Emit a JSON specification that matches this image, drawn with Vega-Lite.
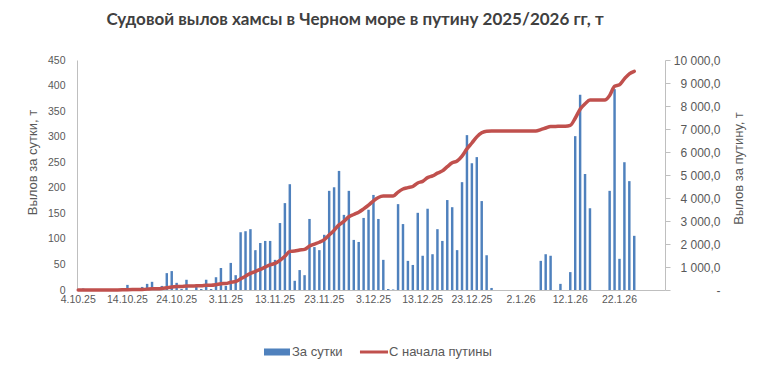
{
  "$schema": "https://vega.github.io/schema/vega-lite/v6.json",
  "width": 588,
  "height": 230,
  "autosize": {"type": "none"},
  "padding": {"left": 77, "top": 60, "right": 96, "bottom": 81},
  "background": "white",
  "config": {"view": {"stroke": null}, "font": "Liberation Sans"},
  "title": {"text": "Судовой вылов хамсы в Черном море в путину 2025/2026 гг, т", "anchor": "middle", "dx": -16, "offset": 25, "fontSize": 17, "font": "Lato", "fontWeight": "bold", "color": "#404040"},
  "data": {"values": [
    {"d":"4.10.25","cum":0},
    {"d":"5.10.25","daily":3,"cum":3},
    {"d":"6.10.25","cum":3},{"d":"7.10.25","cum":3},{"d":"8.10.25","cum":3},{"d":"9.10.25","cum":3},{"d":"10.10.25","cum":3},{"d":"11.10.25","cum":3},{"d":"12.10.25","cum":3},
    {"d":"13.10.25","daily":3,"cum":6},
    {"d":"14.10.25","daily":10,"cum":16},
    {"d":"15.10.25","daily":3,"cum":20},
    {"d":"16.10.25","cum":20},
    {"d":"17.10.25","daily":6,"cum":26},
    {"d":"18.10.25","daily":12,"cum":38},
    {"d":"19.10.25","daily":16,"cum":54},
    {"d":"20.10.25","cum":54},
    {"d":"21.10.25","daily":8,"cum":63},
    {"d":"22.10.25","daily":33,"cum":97},
    {"d":"23.10.25","daily":37,"cum":135},
    {"d":"24.10.25","daily":14,"cum":149},
    {"d":"25.10.25","daily":2,"cum":151},
    {"d":"26.10.25","daily":20,"cum":172},
    {"d":"27.10.25","cum":172},
    {"d":"28.10.25","daily":8,"cum":180},
    {"d":"29.10.25","daily":2,"cum":182},
    {"d":"30.10.25","daily":20,"cum":203},
    {"d":"31.10.25","daily":2,"cum":205},
    {"d":"1.11.25","daily":25,"cum":230},
    {"d":"2.11.25","daily":43,"cum":274},
    {"d":"3.11.25","daily":8,"cum":283},
    {"d":"4.11.25","daily":53,"cum":337},
    {"d":"5.11.25","daily":29,"cum":367},
    {"d":"6.11.25","daily":113,"cum":483},
    {"d":"7.11.25","daily":115,"cum":601},
    {"d":"8.11.25","daily":119,"cum":724},
    {"d":"9.11.25","daily":78,"cum":804},
    {"d":"10.11.25","daily":92,"cum":898},
    {"d":"11.11.25","daily":96,"cum":997},
    {"d":"12.11.25","daily":96,"cum":1096},
    {"d":"13.11.25","daily":59,"cum":1157},
    {"d":"14.11.25","daily":131,"cum":1291},
    {"d":"15.11.25","daily":170,"cum":1466},
    {"d":"16.11.25","daily":207,"cum":1679},
    {"d":"17.11.25","daily":18,"cum":1697},
    {"d":"18.11.25","daily":39,"cum":1737},
    {"d":"19.11.25","daily":29,"cum":1767},
    {"d":"20.11.25","daily":139,"cum":1910},
    {"d":"21.11.25","daily":84,"cum":1996},
    {"d":"22.11.25","daily":78,"cum":2077},
    {"d":"23.11.25","daily":108,"cum":2188},
    {"d":"24.11.25","daily":194,"cum":2387},
    {"d":"25.11.25","daily":201,"cum":2594},
    {"d":"26.11.25","daily":233,"cum":2833},
    {"d":"27.11.25","daily":147,"cum":2984},
    {"d":"28.11.25","daily":194,"cum":3184},
    {"d":"29.11.25","daily":98,"cum":3284},
    {"d":"30.11.25","daily":94,"cum":3381},
    {"d":"1.12.25","daily":141,"cum":3526},
    {"d":"2.12.25","daily":157,"cum":3687},
    {"d":"3.12.25","daily":186,"cum":3879},
    {"d":"4.12.25","daily":139,"cum":4022},
    {"d":"5.12.25","daily":59,"cum":4082},
    {"d":"6.12.25","daily":2,"cum":4084},
    {"d":"7.12.25","daily":1,"cum":4085},
    {"d":"8.12.25","daily":168,"cum":4258},
    {"d":"9.12.25","daily":129,"cum":4391},
    {"d":"10.12.25","daily":57,"cum":4449},
    {"d":"11.12.25","daily":49,"cum":4500},
    {"d":"12.12.25","daily":151,"cum":4655},
    {"d":"13.12.25","daily":67,"cum":4724},
    {"d":"14.12.25","daily":159,"cum":4887},
    {"d":"15.12.25","daily":70,"cum":4959},
    {"d":"16.12.25","daily":119,"cum":5081},
    {"d":"17.12.25","daily":96,"cum":5180},
    {"d":"18.12.25","daily":176,"cum":5361},
    {"d":"19.12.25","daily":162,"cum":5528},
    {"d":"20.12.25","daily":78,"cum":5608},
    {"d":"21.12.25","daily":211,"cum":5825},
    {"d":"22.12.25","daily":303,"cum":6136},
    {"d":"23.12.25","daily":248,"cum":6391},
    {"d":"24.12.25","daily":260,"cum":6658},
    {"d":"25.12.25","daily":174,"cum":6837},
    {"d":"26.12.25","daily":68,"cum":6907},
    {"d":"27.12.25","daily":4,"cum":6911},
    {"d":"28.12.25","cum":6911},{"d":"29.12.25","cum":6911},{"d":"30.12.25","cum":6911},{"d":"31.12.25","cum":6911},
    {"d":"1.1.26","cum":6911},{"d":"2.1.26","cum":6911},{"d":"3.1.26","cum":6911},{"d":"4.1.26","cum":6911},{"d":"5.1.26","cum":6911},
    {"d":"6.1.26","daily":57,"cum":6970},
    {"d":"7.1.26","daily":70,"cum":7042},
    {"d":"8.1.26","daily":67,"cum":7111},
    {"d":"9.1.26","cum":7111},
    {"d":"10.1.26","daily":12,"cum":7123},
    {"d":"11.1.26","cum":7123},
    {"d":"12.1.26","daily":35,"cum":7159},
    {"d":"13.1.26","daily":301,"cum":7468},
    {"d":"14.1.26","daily":382,"cum":7861},
    {"d":"15.1.26","daily":227,"cum":8094},
    {"d":"16.1.26","daily":160,"cum":8259},
    {"d":"17.1.26","cum":8259},{"d":"18.1.26","cum":8259},{"d":"19.1.26","cum":8259},
    {"d":"20.1.26","daily":194,"cum":8458},
    {"d":"21.1.26","daily":393,"cum":8862},
    {"d":"22.1.26","daily":61,"cum":8925},
    {"d":"23.1.26","daily":250,"cum":9182},
    {"d":"24.1.26","daily":213,"cum":9401},
    {"d":"25.1.26","daily":106,"cum":9510}
  ]},
  "encoding": {
    "x": {
      "field": "d", "type": "nominal", "sort": null,
      "scale": {"type": "band", "paddingInner": 0.5, "paddingOuter": 0, "domain": [
        "4.10.25","5.10.25","6.10.25","7.10.25","8.10.25","9.10.25","10.10.25","11.10.25","12.10.25","13.10.25","14.10.25","15.10.25","16.10.25","17.10.25","18.10.25","19.10.25","20.10.25","21.10.25","22.10.25","23.10.25","24.10.25","25.10.25","26.10.25","27.10.25","28.10.25","29.10.25","30.10.25","31.10.25",
        "1.11.25","2.11.25","3.11.25","4.11.25","5.11.25","6.11.25","7.11.25","8.11.25","9.11.25","10.11.25","11.11.25","12.11.25","13.11.25","14.11.25","15.11.25","16.11.25","17.11.25","18.11.25","19.11.25","20.11.25","21.11.25","22.11.25","23.11.25","24.11.25","25.11.25","26.11.25","27.11.25","28.11.25","29.11.25","30.11.25",
        "1.12.25","2.12.25","3.12.25","4.12.25","5.12.25","6.12.25","7.12.25","8.12.25","9.12.25","10.12.25","11.12.25","12.12.25","13.12.25","14.12.25","15.12.25","16.12.25","17.12.25","18.12.25","19.12.25","20.12.25","21.12.25","22.12.25","23.12.25","24.12.25","25.12.25","26.12.25","27.12.25","28.12.25","29.12.25","30.12.25","31.12.25",
        "1.1.26","2.1.26","3.1.26","4.1.26","5.1.26","6.1.26","7.1.26","8.1.26","9.1.26","10.1.26","11.1.26","12.1.26","13.1.26","14.1.26","15.1.26","16.1.26","17.1.26","18.1.26","19.1.26","20.1.26","21.1.26","22.1.26","23.1.26","24.1.26","25.1.26","26.1.26","27.1.26","28.1.26","29.1.26","30.1.26","31.1.26"
      ]},
      "axis": {
        "title": null, "labelAngle": 0, "ticks": false, "labelPadding": 4,
        "values": ["4.10.25","14.10.25","24.10.25","3.11.25","13.11.25","23.11.25","3.12.25","13.12.25","23.12.25","2.1.26","12.1.26","22.1.26"],
        "domainColor": "#BFBFBF", "labelColor": "#595959", "labelFontSize": 10.5, "labelFont": "Liberation Sans", "labelOverlap": false
      }
    }
  },
  "layer": [
    {
      "mark": {"type": "bar"},
      "encoding": {
        "y": {"field": "daily", "type": "quantitative",
          "scale": {"domain": [0, 450], "nice": false},
          "axis": {"orient": "left", "title": "Вылов за сутки, т", "values": [0,50,100,150,200,250,300,350,400,450],
            "grid": false, "ticks": false, "labelPadding": 12, "domainColor": "#BFBFBF",
            "labelColor": "#595959", "labelFontSize": 10.5, "labelFont": "Liberation Sans",
            "titleFont": "Liberation Sans", "titleFontSize": 13, "titleFontWeight": "normal", "titleColor": "#595959",
            "titleX": -45, "titleY": 102, "titleAngle": 270, "titleBaseline": "middle", "titleAlign": "center"}},
        "color": {"datum": "За сутки", "type": "nominal",
          "scale": {"domain": ["За сутки", "С начала путины"], "range": ["#4F81BD", "#C0504D"]},
          "legend": {"title": null, "orient": "none", "legendX": 187, "legendY": 279, "direction": "horizontal",
            "symbolSize": 676, "labelFontSize": 13, "labelFont": "Liberation Sans", "labelColor": "#595959",
            "labelOffset": 2, "columnPadding": 16,
            "encode": {"symbols": {"update": {
              "shape": {"signal": "datum.value === 'За сутки' ? 'M-1,-0.27L1,-0.27L1,0.27L-1,0.27Z' : 'M-1.08,-0.115L1.08,-0.115L1.08,0.115L-1.08,0.115Z'"},
              "fill": {"signal": "datum.value === 'За сутки' ? '#4F81BD' : '#C0504D'"},
              "stroke": {"value": "transparent"},
              "strokeWidth": {"value": 0},
              "opacity": {"value": 1}
            }}}}}
      }
    },
    {
      "mark": {"type": "line", "strokeWidth": 3.5, "interpolate": "monotone", "strokeJoin": "round", "strokeCap": "round"},
      "encoding": {
        "y": {"field": "cum", "type": "quantitative",
          "scale": {"domain": [0, 10000], "nice": false},
          "axis": {"orient": "right", "title": "Вылов за путину, т", "values": [0,1000,2000,3000,4000,5000,6000,7000,8000,9000,10000],
            "grid": false, "ticks": true, "tickSize": 5, "tickColor": "#BFBFBF", "domainColor": "#BFBFBF",
            "labelAlign": "right", "labelPadding": 50,
            "labelExpr": "datum.value == 0 ? '-\u00a0\u00a0\u00a0\u00a0\u00a0\u00a0\u00a0\u00a0\u00a0\u00a0\u00a0\u00a0' : replace(replace(format(datum.value, ',.1f'), ',', ' '), '.', ',')",
            "labelColor": "#595959", "labelFontSize": 12, "labelFont": "Liberation Sans",
            "titleFont": "Liberation Sans", "titleFontSize": 13, "titleFontWeight": "normal", "titleColor": "#595959",
            "titleX": 73, "titleY": 108, "titleAngle": 270, "titleBaseline": "middle", "titleAlign": "center"}},
        "color": {"datum": "С начала путины", "type": "nominal"}
      }
    }
  ],
  "resolve": {"scale": {"y": "independent"}}
}
